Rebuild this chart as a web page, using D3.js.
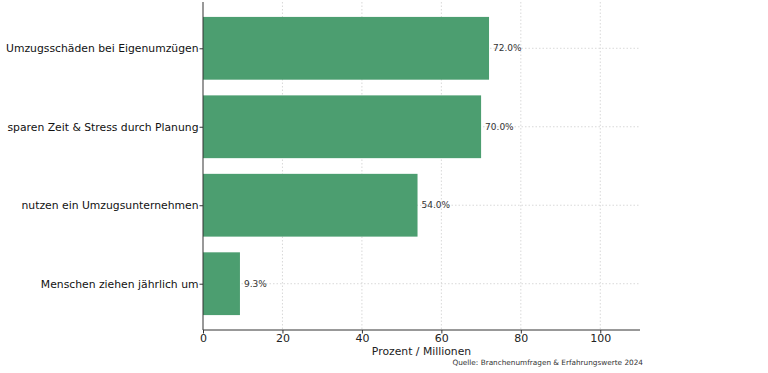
<!DOCTYPE html>
<html><head><meta charset="utf-8">
<script src="https://cdn.jsdelivr.net/npm/d3@7"></script>
<style>body{margin:0;background:#fff}svg{display:block}text{font-family:"DejaVu Sans",sans-serif}</style>
</head><body><svg id="c" width="768" height="373"></svg>
<script>
const categories = ["Menschen ziehen jährlich um","nutzen ein Umzugsunternehmen","sparen Zeit & Stress durch Planung","Umzugsschäden bei Eigenumzügen"];
const values = [9.3, 54.0, 70.0, 72.0];
const valueLabels = ["9.3%","54.0%","70.0%","72.0%"];
const xTicks = [0,20,40,60,80,100];
const xLabel = "Prozent / Millionen";
const source = "Quelle: Branchenumfragen & Erfahrungswerte 2024";

const svg = d3.select("#c");
const L=203, R=640, T=2, B=330;
const x = d3.scaleLinear().domain([0,110]).range([L,R]);
const y = d3.scaleLinear().domain([-0.59,3.59]).range([B,T]);
const bh = y(0)-y(0.8);

const g = svg.append("g");
g.selectAll(".vg").data(xTicks.slice(1)).join("line")
 .attr("x1",d=>x(d)).attr("x2",d=>x(d)).attr("y1",T).attr("y2",B)
 .attr("stroke","#cfcfcf").attr("stroke-width",0.8).attr("stroke-dasharray","1.5,2");
g.selectAll(".hg").data(categories).join("line")
 .attr("x1",L).attr("x2",R).attr("y1",(d,i)=>y(i)).attr("y2",(d,i)=>y(i))
 .attr("stroke","#cfcfcf").attr("stroke-width",0.8).attr("stroke-dasharray","1.5,2");
g.selectAll(".bar").data(values).join("rect")
 .attr("x",x(0)).attr("width",d=>x(d)-x(0))
 .attr("y",(d,i)=>y(i)-bh/2).attr("height",bh).attr("fill","#4c9e70");
g.selectAll(".vl").data(values).join("text")
 .attr("x",d=>x(d)+4).attr("y",(d,i)=>y(i)).attr("dy","0.35em")
 .attr("font-size",9).attr("fill","#333").text((d,i)=>valueLabels[i]);
const xa = svg.append("g").attr("transform",`translate(0,${B})`)
 .call(d3.axisBottom(x).tickValues(xTicks).tickSize(3.5).tickPadding(0.5));
xa.select(".domain").attr("stroke","#333").attr("d",`M${L},0H${R}`);
xa.selectAll("text").attr("font-size",11).attr("fill","#222").attr("font-family","DejaVu Sans");
xa.selectAll(".tick line").attr("stroke","#333");
const ya = svg.append("g").attr("transform",`translate(${L},0)`)
 .call(d3.axisLeft(y).tickValues([0,1,2,3]).tickFormat((d)=>categories[d]).tickSize(3.5).tickPadding(1));
ya.select(".domain").attr("stroke","#333").attr("d",`M0,${T}V${B}`);
ya.selectAll("text").attr("font-size",10.8).attr("fill","#111").attr("font-family","DejaVu Sans");
ya.selectAll(".tick line").attr("stroke","#333");
svg.append("text").attr("x",(L+R)/2).attr("y",355).attr("text-anchor","middle")
 .attr("font-size",10.8).attr("fill","#222").text(xLabel);
svg.append("text").attr("x",643).attr("y",364.5).attr("text-anchor","end")
 .attr("font-size",7.3).attr("fill","#333").text(source);
</script></body></html>
